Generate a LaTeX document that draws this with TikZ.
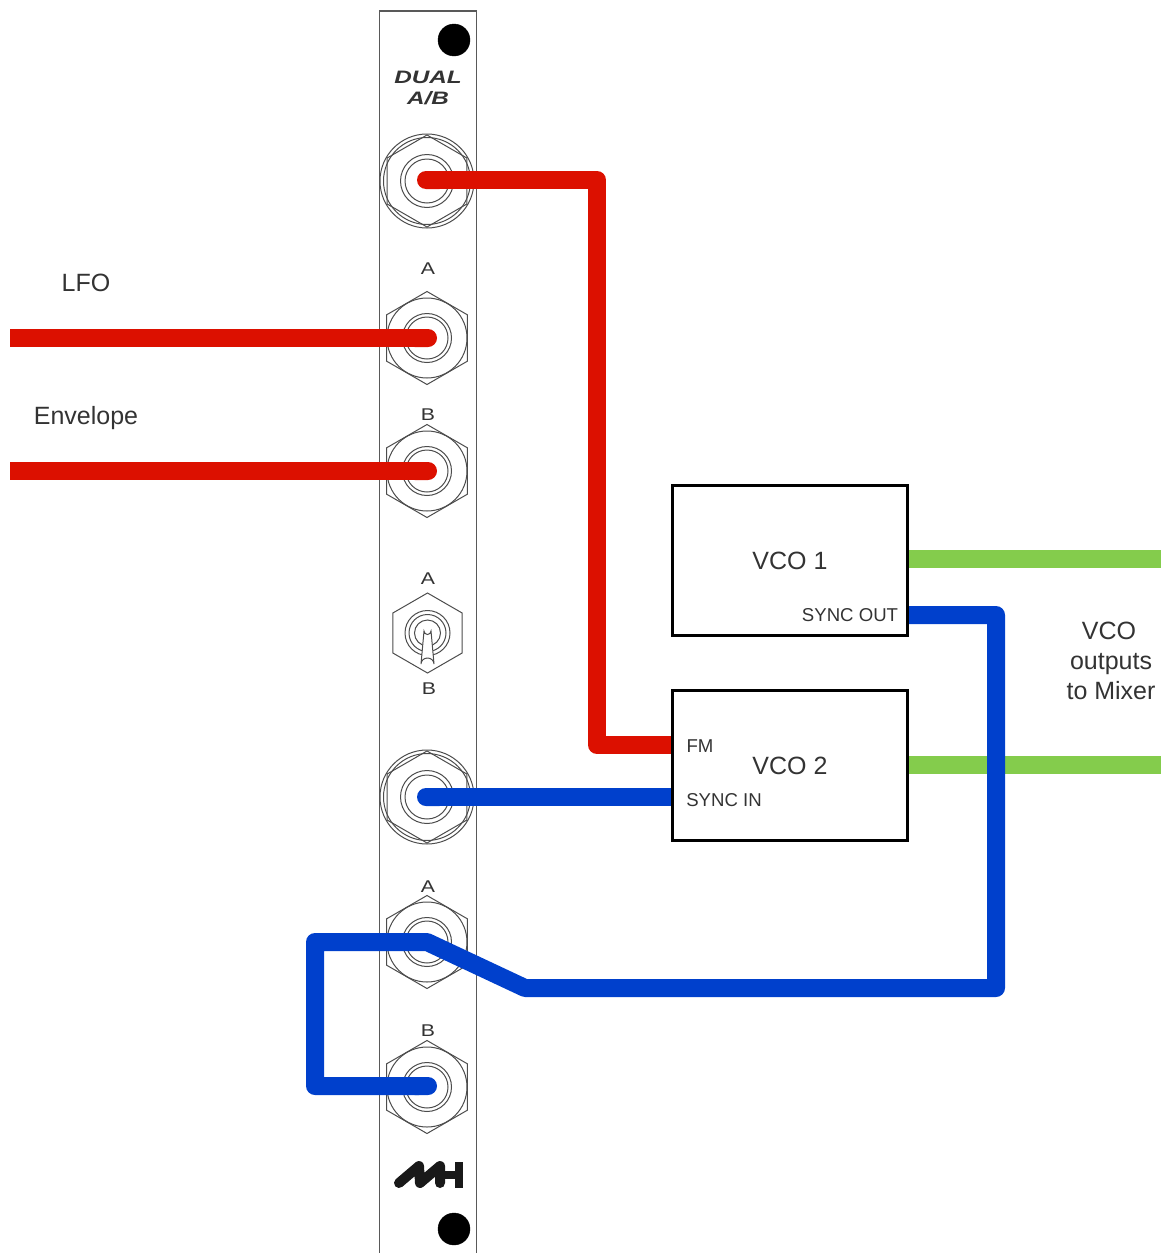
\documentclass[tikz,border=0pt]{standalone}
\usepackage{fontspec}
\setmainfont{Liberation Sans}
\usetikzlibrary{shapes.geometric,arrows.meta}
\definecolor{wirered}{HTML}{DC1000}
\definecolor{wireblue}{HTML}{0040CC}
\definecolor{wiregreen}{HTML}{84CC4C}
\definecolor{inkgray}{HTML}{333333}
\tikzset{
    hexnut/.style={regular polygon, regular polygon sides=6, shape border rotate=30, draw=black!70, line width=1pt, inner sep=0pt, outer sep=0pt},
    ring/.style={circle, draw=black!70, line width=1pt, inner sep=0pt, outer sep=0pt},
    wire/.style={line width=18pt, line join=round},
    vcobox/.style={draw=black, line width=3pt, minimum width=235pt, minimum height=150pt, inner sep=0pt},
    panellabel/.style={font=\fontsize{17}{17}\selectfont, text=inkgray, xscale=1.25, inner sep=0pt},
    brandlabel/.style={font=\fontsize{18}{18}\selectfont\bfseries\itshape, text=inkgray, xscale=1.35, inner sep=0pt},
    biglabel/.style={font=\fontsize{25}{25}\selectfont, text=inkgray, inner sep=0pt, anchor=base},
    smalllabel/.style={font=\fontsize{18.6}{18.6}\selectfont, text=inkgray, inner sep=0pt, anchor=base},
}
\begin{document}
\begin{tikzpicture}[x=1pt,y=-1pt]
    \useasboundingbox (0,0) rectangle (1161,1253);
    % panel
    \draw[black!65, line width=1.7pt] (379.5,1253) -- (379.5,11) -- (476.5,11) -- (476.5,1253);
    \filldraw[black] (454,40) circle (16pt);
    \filldraw[black] (454,1229) circle (16pt);
    \node[brandlabel] (dual) at (428,77) {DUAL};
    \node[brandlabel] (ab) at (428,98) {A/B};

    % large jacks
    \foreach \jname/\jy in {output/181, syncjack/797} {
        \node[hexnut, minimum size=92pt] (\jname) at (427,\jy) {};
        \node[ring, minimum size=94pt] at (427,\jy) {};
        \node[ring, minimum size=87pt] at (427,\jy) {};
        \node[ring, minimum size=53pt] at (427,\jy) {};
        \node[ring, minimum size=44pt] at (427,\jy) {};
    }
    % small jacks
    \foreach \jname/\jy in {lfojack/338, envjack/471, loopA/942, loopB/1087} {
        \node[hexnut, minimum size=93pt] (\jname) at (427,\jy) {};
        \node[ring, minimum size=80pt] at (427,\jy) {};
        \node[ring, minimum size=49pt] at (427,\jy) {};
        \node[ring, minimum size=42pt] at (427,\jy) {};
    }
    % toggle
    \node[hexnut, minimum size=80pt] (toggle) at (427.5,633) {};
    \node[ring, minimum size=45pt] at (toggle.center) {};
    \node[ring, minimum size=37pt] at (toggle.center) {};
    \node[ring, minimum size=26pt] at (toggle.center) {};
    \filldraw[fill=white, draw=black!70, line width=1pt] (424,631) arc (180:0:3.5) -- (434,664) arc (0:-180:6.5 and 6) -- cycle;

    \node[panellabel] (la) at (428,269) {A};
    \node[panellabel] (lb) at (428,415) {B};
    \node[panellabel] (lc) at (428,579) {A};
    \node[panellabel] (ld) at (429,689) {B};
    \node[panellabel] (le) at (428,887) {A};
    \node[panellabel] (lf) at (428,1031) {B};

    % logo
    \draw[black!90, line width=10pt, line join=round, line cap=round] (399,1183) -- (419,1166) -- (420,1183) -- (440,1166) -- (440,1183);
    \draw[black!90, line width=8pt] (440,1175) -- (459,1175);
    \draw[black!90, line width=8pt] (459,1162) -- (459,1188);

    % boxes
    \node[vcobox] (vco1) at (790,560.5) {};
    \node[vcobox] (vco2) at (790,765.5) {};
    \coordinate (fmpin) at (vco2.west |- 0,745);
    \coordinate (syncpin) at (vco2.west |- 0,797);
    \coordinate (outpin) at (vco1.east |- 0,615);
    \coordinate (lfoend) at (10,338);
    \coordinate (envend) at (10,471);
    \coordinate (mixA) at (1161,559);
    \coordinate (mixB) at (1161,765);
    % wire tips sit a little off the jack centres
    \coordinate (outtip) at (417,180);
    \coordinate (synctip) at (417,797);
    \coordinate (lfotip) at (437,338);
    \coordinate (envtip) at (437,471);
    \coordinate (looptip) at (437,1086);

    % wires
    \draw[wire, wiregreen] (vco1.east |- mixA) -- (mixA);
    \draw[wire, wiregreen] (vco2.east |- mixB) -- (mixB);
    \draw[wire, wirered, {Round Cap[]}-] (outtip) -- (597,180) -- (597,745) -- (fmpin);
    \draw[wire, wirered, -{Round Cap[]}] (lfoend) -- (lfotip);
    \draw[wire, wirered, -{Round Cap[]}] (envend) -- (envtip);
    \draw[wire, wireblue, {Round Cap[]}-] (synctip) -- (syncpin);
    \draw[wire, wireblue, -{Round Cap[]}] (outpin) -- (996,615) -- (996,988) -- (525,988) -- (loopA.center) -- (315,942) -- (315,1086) -- (looptip);

    \node[biglabel] (lfotext) at (86,291) {LFO};
    \node[biglabel] (envtext) at (86,424) {Envelope};
    \node[biglabel] (vcoa) at (790,569) {VCO 1};
    \node[biglabel] (vcob) at (790,774) {VCO 2};
    \node[smalllabel] (syncout) at (850,621) {SYNC OUT};
    \node[smalllabel] (fmtext) at (700,752) {FM};
    \node[smalllabel] (syncin) at (724,806) {SYNC IN};
    \node[biglabel] (mixa) at (1109,639) {VCO};
    \node[biglabel] (mixb) at (1111,669) {outputs};
    \node[biglabel] (mixc) at (1111,699) {to Mixer};
\end{tikzpicture}
\end{document}
